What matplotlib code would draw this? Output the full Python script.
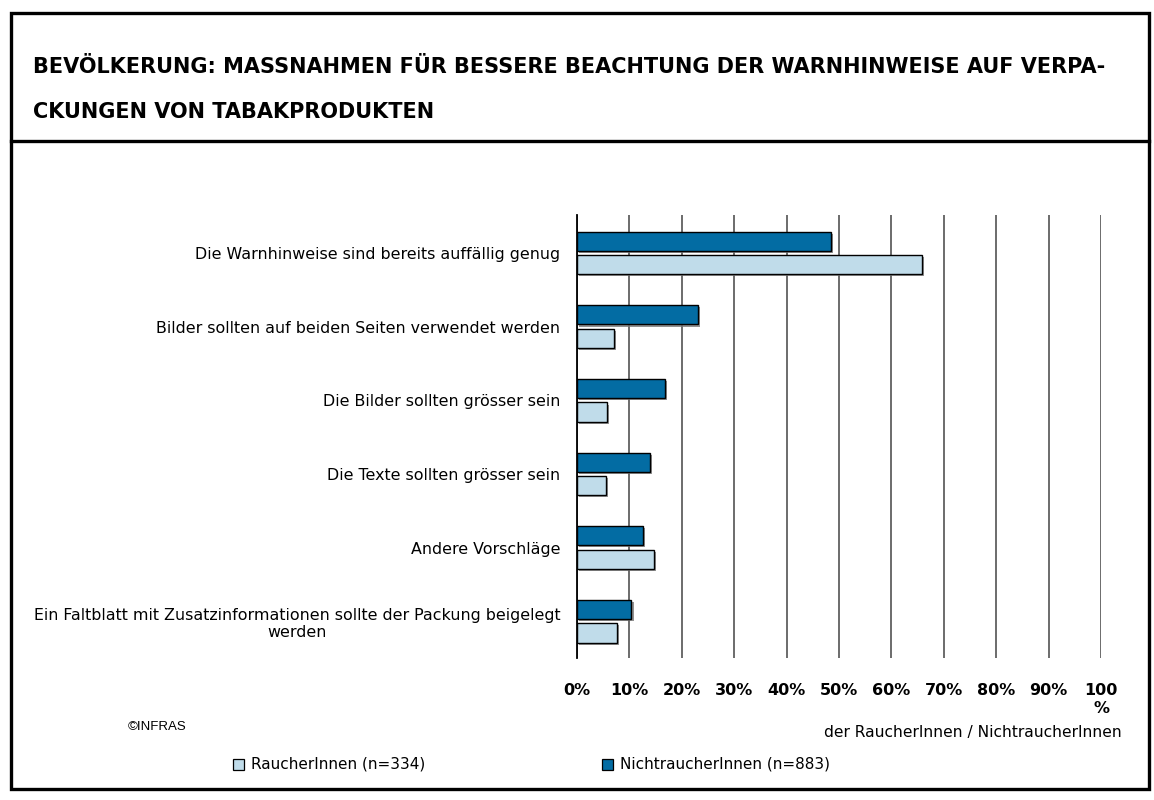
import matplotlib
matplotlib.use("Agg")
import matplotlib.pyplot as plt
import numpy as np
from matplotlib.patches import Rectangle
from matplotlib.lines import Line2D
import matplotlib.patheffects as pe

categories = [
    "Die Warnhinweise sind bereits auffällig genug",
    "Bilder sollten auf beiden Seiten verwendet werden",
    "Die Bilder sollten grösser sein",
    "Die Texte sollten grösser sein",
    "Andere Vorschläge",
    "Ein Faltblatt mit Zusatzinformationen sollte der Packung beigelegt\nwerden",
]
nichtraucher = [48.5, 23.1, 16.8, 14.0, 12.5, 10.4]
raucher = [65.8, 7.0, 5.7, 5.5, 14.7, 7.7]
xticks = [0, 10, 20, 30, 40, 50, 60, 70, 80, 90, 100]
xticklabels = ["0%", "10%", "20%", "30%", "40%", "50%", "60%", "70%", "80%", "90%", "100\n%"]
legend_labels = ["RaucherInnen (n=334)", "NichtraucherInnen (n=883)"]
title_lines = ["BEVÖLKERUNG: MASSNAHMEN FÜR BESSERE BEACHTUNG DER WARNHINWEISE AUF VERPA-",
               "CKUNGEN VON TABAKPRODUKTEN"]

DARK = "#036ca3"
LIGHT = "#c0dcea"
FONT = "DejaVu Sans Condensed"

W, H = 1154, 800
fig = plt.figure(figsize=(W / 100, H / 100), dpi=100)

def fx(px):
    return px / W

def fy(py):
    return 1 - py / H

# frame
fig.patches.append(Rectangle((fx(11), fy(789)), fx(1149) - fx(11), fy(13) - fy(789),
                             transform=fig.transFigure, fill=False, edgecolor="black",
                             linewidth=2.4, zorder=0))
fig.lines.append(Line2D([fx(11), fx(1149)], [fy(141), fy(141)], transform=fig.transFigure,
                        color="black", linewidth=2.4))

fig.text(fx(33), fy(73), title_lines[0], ha="left", va="baseline", fontsize=15,
         fontweight="bold", family=FONT)
fig.text(fx(33), fy(118), title_lines[1], ha="left", va="baseline", fontsize=15,
         fontweight="bold", family=FONT)

ax = fig.add_axes([fx(577), fy(658), fx(1101) - fx(577), fy(215) - fy(658)])
y = np.arange(len(categories))
h = 0.26
off = 0.16
shadow = [pe.SimplePatchShadow(offset=(1.5, -1.5), shadow_rgbFace="#777777", alpha=0.8), pe.Normal()]
b1 = ax.barh(y - off, nichtraucher, height=h, color=DARK, edgecolor="black", linewidth=1.0, zorder=3)
b2 = ax.barh(y + off, raucher, height=h, color=LIGHT, edgecolor="black", linewidth=1.0, zorder=3)
for b in list(b1) + list(b2):
    b.set_path_effects(shadow)

ax.set_xlim(0, 100)
ax.set_ylim(5.50, -0.516)
ax.set_xticks(xticks)
ax.set_xticklabels(xticklabels, fontweight="bold", fontsize=11.5, family=FONT,
                   va="top", linespacing=1.25)
ax.tick_params(axis="x", length=0, pad=18)
ax.set_yticks(y)
ax.set_yticklabels(categories, fontsize=11.4, family=FONT, ha="right")
ax.tick_params(axis="y", length=0, pad=12)
for t in ax.get_yticklabels():
    t.set_multialignment("center")
ax.grid(axis="x", color="#444444", linewidth=1.1, zorder=0)
for s in ["top", "right", "bottom"]:
    ax.spines[s].set_visible(False)
ax.spines["left"].set_linewidth(1.3)
ax.spines["left"].set_zorder(4)

fig.text(fx(1122), fy(733), "der RaucherInnen / NichtraucherInnen", ha="right", va="center",
         fontsize=11.2, family=FONT)
fig.text(fx(128), fy(727), "©INFRAS", ha="left", va="center", fontsize=9.5,
         family="Liberation Sans")

# legend
for (sx, tx), col, lab in zip([(233, 251), (602, 620)], [LIGHT, DARK], legend_labels):
    fig.patches.append(Rectangle((fx(sx), fy(770)), fx(11), 11 / H, transform=fig.transFigure,
                                 facecolor=col, edgecolor="black", linewidth=0.9))
    fig.text(fx(tx), fy(764), lab, ha="left", va="center", fontsize=11, family=FONT)

fig.savefig("out.png", dpi=100)
